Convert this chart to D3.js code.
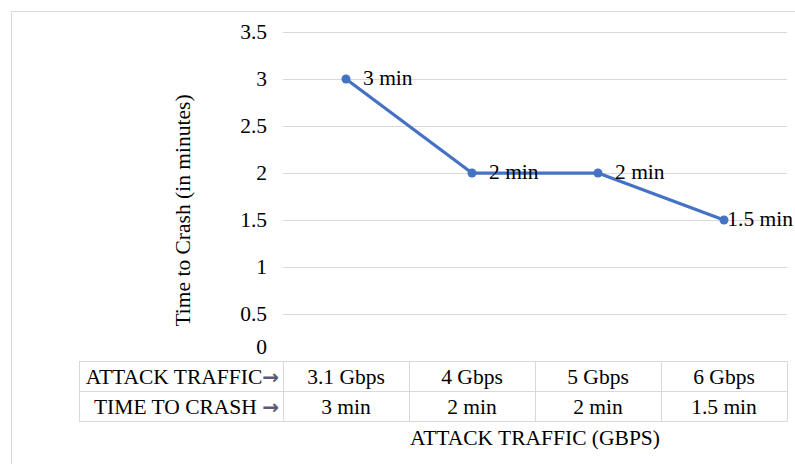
<!DOCTYPE html>
<html>
<head>
<meta charset="utf-8">
<script src="https://cdn.jsdelivr.net/npm/d3@7"></script>
<style>
  body { margin: 0; background: #fff; }
</style>
</head>
<body>
<div id="chart"></div>
<script>
// data
let traffic = ["3.1 Gbps", "4 Gbps", "5 Gbps", "6 Gbps"];
let crashTime = [3, 2, 2, 1.5];
let crashLabels = ["3 min", "2 min", "2 min", "1.5 min"];
let yTicks = [0, 0.5, 1, 1.5, 2, 2.5, 3, 3.5];
let rowHeaders = ["ATTACK TRAFFIC", "TIME TO CRASH "];

let width = 795, height = 464;
let plot = {left: 283, right: 787, top: 32, bottom: 361};
let tableLeft = 79, rowH = 30;
let fontSize = 21.5;
let serif = "'Liberation Serif', 'Times New Roman', serif";

let svg = d3.select("#chart").append("svg")
    .attr("width", width)
    .attr("height", height)
    .style("font-family", serif);

// outer frame
svg.append("rect")
    .attr("x", 11.5).attr("y", 11.5)
    .attr("width", width + 20).attr("height", height + 20)
    .attr("fill", "none")
    .attr("stroke", "#d9d9d9");

let xScale = d3.scaleBand()
    .domain(traffic)
    .range([plot.left, plot.right]);

let yScale = d3.scaleLinear()
    .domain([0, 3.5])
    .range([plot.bottom, plot.top]);

// gridlines
svg.append("g")
    .attr("class", "grid")
    .selectAll("line")
    .data(yTicks.filter(function(d) { return d > 0; }))
    .enter().append("line")
    .attr("x1", plot.left).attr("x2", plot.right)
    .attr("y1", function(d) { return Math.round(yScale(d)) + 0.5; })
    .attr("y2", function(d) { return Math.round(yScale(d)) + 0.5; })
    .attr("stroke", "#d9d9d9")
    .attr("stroke-width", 1);

// y axis labels
let yAxis = d3.axisLeft(yScale)
    .tickValues(yTicks)
    .tickSize(0)
    .tickPadding(16)
    .tickFormat(function(d) { return d; });

let yAxis_g = svg.append("g")
    .attr("class", "y axis")
    .attr("transform", "translate(" + plot.left + ",0)")
    .call(yAxis)
    .attr("font-family", null)
    .attr("font-size", null);

yAxis_g.select(".domain").remove();
yAxis_g.selectAll("text")
    .style("font-family", serif)
    .style("font-size", fontSize + "px")
    .attr("fill", "#000")
    .attr("dy", function(d) { return d === 0 ? "-0.35em" : "0.32em"; });

// y axis title
svg.append("text")
    .attr("transform", "translate(190," + ((plot.top + plot.bottom) / 2 + 14) + ") rotate(-90)")
    .attr("text-anchor", "middle")
    .style("font-size", fontSize + "px")
    .text("Time to Crash (in minutes)");

// line + markers
let points = traffic.map(function(t, i) { return {cat: t, val: crashTime[i], label: crashLabels[i]}; });

let line = d3.line()
    .x(function(d) { return xScale(d.cat) + xScale.bandwidth() / 2; })
    .y(function(d) { return yScale(d.val); });

svg.append("path")
    .attr("d", line(points))
    .attr("fill", "none")
    .attr("stroke", "#4472c4")
    .attr("stroke-width", 3.25)
    .attr("stroke-linejoin", "round");

svg.selectAll(".marker")
    .data(points)
    .enter().append("circle")
    .attr("class", "marker")
    .attr("cx", function(d) { return xScale(d.cat) + xScale.bandwidth() / 2; })
    .attr("cy", function(d) { return yScale(d.val); })
    .attr("r", 4.5)
    .attr("fill", "#4472c4");

// data labels to the right of each point, pulled in if they would run off the edge
svg.selectAll(".label")
    .data(points)
    .enter().append("text")
    .attr("class", "label")
    .attr("y", function(d) { return yScale(d.val) + 6; })
    .style("font-size", fontSize + "px")
    .text(function(d) { return d.label; })
    .attr("x", function(d) {
      let x = xScale(d.cat) + xScale.bandwidth() / 2 + 17;
      let len = this.getComputedTextLength();
      return Math.min(x, width - 2 - len);
    });

// data table
let table = svg.append("g").attr("class", "table");
let tTop = plot.bottom + 0.5;
let gridColor = "#d9d9d9";

[0, 1, 2].forEach(function(r) {
  table.append("line")
      .attr("x1", tableLeft).attr("x2", plot.right)
      .attr("y1", tTop + r * rowH).attr("y2", tTop + r * rowH)
      .attr("stroke", gridColor);
});

let colEdges = [tableLeft].concat(traffic.map(function(t) { return xScale(t); }), [plot.right]);
colEdges.forEach(function(x) {
  table.append("line")
      .attr("x1", Math.round(x) + 0.5).attr("x2", Math.round(x) + 0.5)
      .attr("y1", tTop).attr("y2", tTop + 2 * rowH)
      .attr("stroke", gridColor);
});

rowHeaders.forEach(function(h, r) {
  let t = table.append("text")
      .attr("x", plot.left - 4)
      .attr("y", tTop + r * rowH + rowH / 2 + 7)
      .attr("text-anchor", "end")
      .style("font-size", fontSize + "px");
  t.append("tspan").text(h);
  t.append("tspan")
      .style("font-family", "DejaVu Sans")
      .style("font-weight", "bold")
      .style("font-size", "20px")
      .style("fill", "#5a5a78")
      .text("\u2192");
});

let rows = [traffic, crashLabels];
rows.forEach(function(row, r) {
  table.selectAll(".cell" + r)
      .data(row)
      .enter().append("text")
      .attr("class", "cell" + r)
      .attr("x", function(d, i) { return xScale(traffic[i]) + xScale.bandwidth() / 2; })
      .attr("y", tTop + r * rowH + rowH / 2 + 7)
      .attr("text-anchor", "middle")
      .style("font-size", fontSize + "px")
      .text(function(d) { return d; });
});

// x axis title
svg.append("text")
    .attr("x", (plot.left + plot.right) / 2)
    .attr("y", tTop + 2 * rowH + 23)
    .attr("text-anchor", "middle")
    .style("font-size", fontSize + "px")
    .text("ATTACK TRAFFIC (GBPS)");
</script>
</body>
</html>
